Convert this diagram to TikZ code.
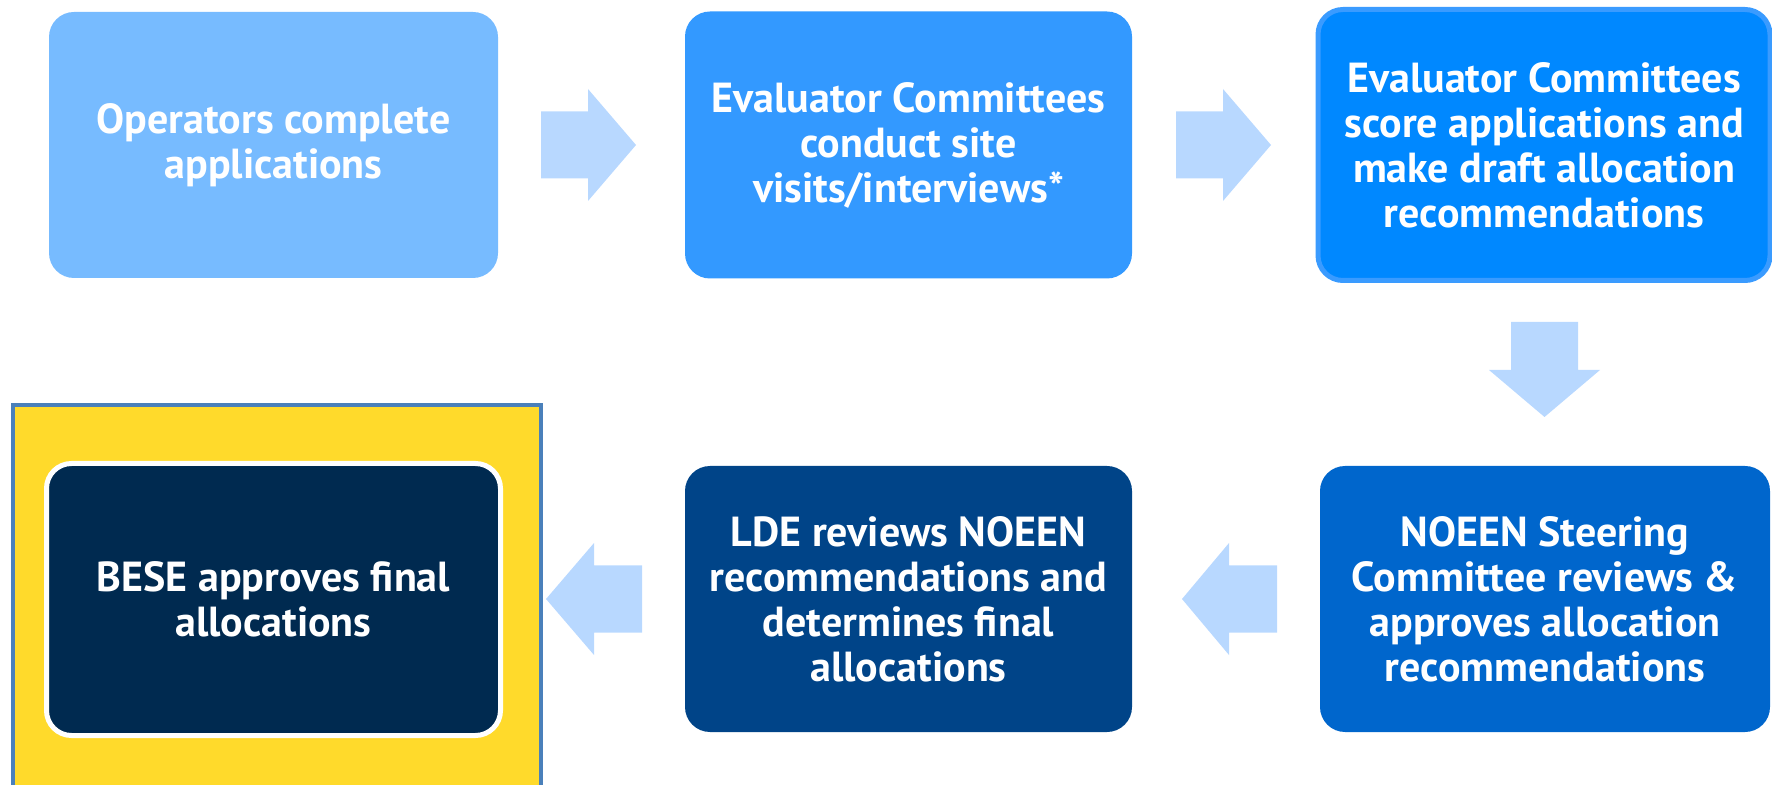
\documentclass[tikz,border=0pt]{standalone}
\usepackage{fontspec}
\setmainfont{PT Sans}
\definecolor{cA}{HTML}{77BBFF}
\definecolor{cB}{HTML}{3399FF}
\definecolor{cC}{HTML}{0088FF}
\definecolor{cCb}{HTML}{3A9BFF}
\definecolor{cD}{HTML}{0066CC}
\definecolor{cE}{HTML}{004488}
\definecolor{cF}{HTML}{002A50}
\definecolor{arr}{HTML}{B8D8FF}
\definecolor{yel}{HTML}{FFDA2B}
\definecolor{yelb}{HTML}{4A80BA}
\begin{document}
\begin{tikzpicture}[x=0.5pt,y=-0.5pt,
  box/.style={rectangle, rounded corners=12.5pt, align=center, text=white,
    font=\bfseries\fontsize{21}{22.5}\selectfont, inner sep=0pt},
  blockarrow/.style={fill=arr, draw=none}]
\useasboundingbox (0,0) rectangle (1772,785);
\begin{scope}
\clip (0,0) rectangle (1772,785);
\fill[yel] (11,403) rectangle (543,800);
\draw[yelb, line width=2.25pt] (13,800) -- (13,405) -- (541,405) -- (541,800);
\end{scope}
\node[box, fill=cA, minimum width=224.5pt, minimum height=133pt] (b1) at (273.5,145) {Operators complete\\applications};
\node[box, fill=cB, minimum width=223.5pt, minimum height=133.5pt] (b2) at (908.5,145) {Evaluator Committees\\conduct site\\visits/interviews*};
\node[box, fill=cC, draw=cCb, line width=2.5pt, minimum width=226pt, minimum height=135.5pt] (b3) at (1544,145) {Evaluator Committees\\score applications and\\make draft allocation\\recommendations};
\node[box, fill=cD, minimum width=225pt, minimum height=133pt] (b4) at (1545,599) {NOEEN Steering\\Committee reviews \&\\approves allocation\\recommendations};
\node[box, fill=cE, minimum width=223.5pt, minimum height=133pt] (b5) at (908.5,599) {LDE reviews NOEEN\\recommendations and\\determines final\\allocations};
\node[box, fill=cF, draw=white, line width=2.5pt, minimum width=227pt, minimum height=136pt] (b6) at (273.5,599.5) {BESE approves final\\allocations};
% block arrows
\fill[blockarrow] (541,111.5) -- (588,111.5) -- (588,89) -- (636,145) -- (588,201) -- (588,178.5) -- (541,178.5) -- cycle;
\fill[blockarrow] (1176,111.5) -- (1223,111.5) -- (1223,89) -- (1271,145) -- (1223,201) -- (1223,178.5) -- (1176,178.5) -- cycle;
\fill[blockarrow] (1511,322) -- (1578,322) -- (1578,370) -- (1600,370) -- (1544.5,417) -- (1489,370) -- (1511,370) -- cycle;
\fill[blockarrow] (1277,565.5) -- (1229,565.5) -- (1229,543) -- (1182,599) -- (1229,655) -- (1229,632.5) -- (1277,632.5) -- cycle;
\fill[blockarrow] (642,565.5) -- (594,565.5) -- (594,543) -- (546,599) -- (594,655) -- (594,632.5) -- (642,632.5) -- cycle;
\end{tikzpicture}
\end{document}
